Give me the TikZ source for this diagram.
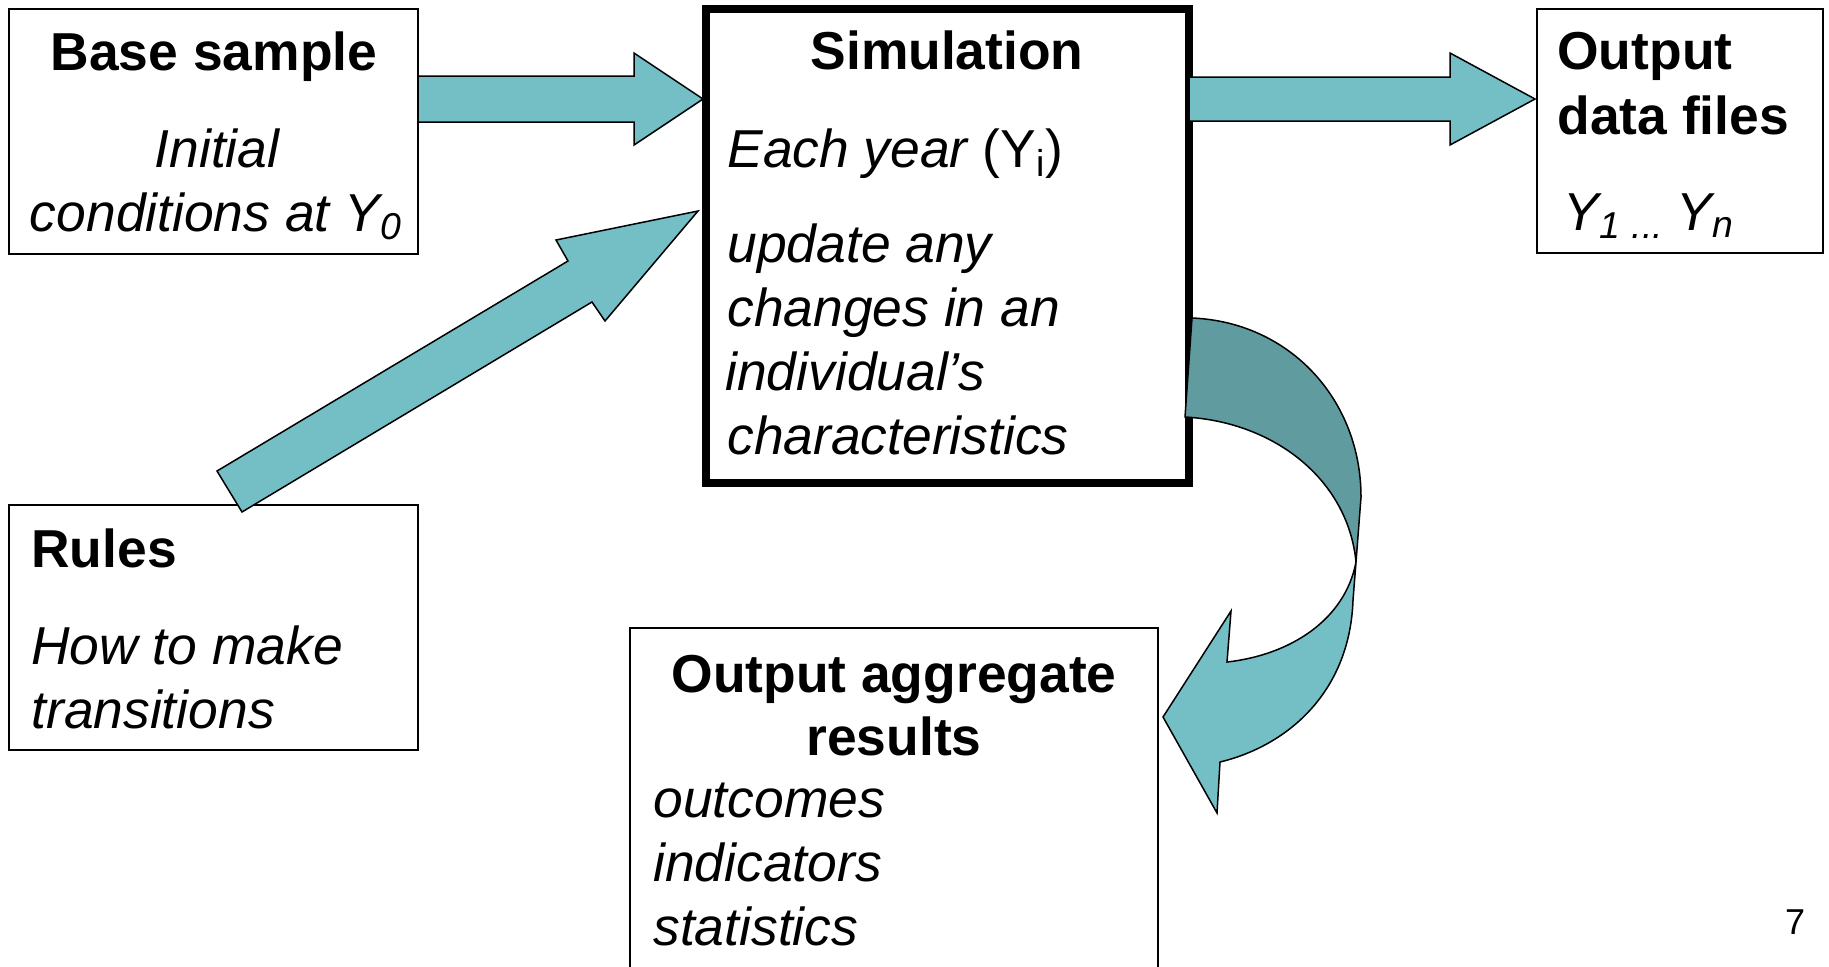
\documentclass[tikz,border=0pt]{standalone}
\usepackage{fontspec}
\setmainfont{Liberation Sans}
\definecolor{lteal}{RGB}{115,191,197}
\definecolor{dteal}{RGB}{95,155,159}
\begin{document}
\begin{tikzpicture}[x=0.5pt,y=-0.5pt,
  box/.style={draw=black, line width=1pt, inner sep=0pt},
  simbox/.style={draw=black, line width=4pt, inner sep=0pt},
  blk/.style={fill=lteal, draw=black, line width=0.75pt, line join=miter},
  blkdark/.style={fill=dteal, draw=black, line width=0.75pt, line join=miter},
  tb/.style={font=\fontsize{26.7}{32}\selectfont\bfseries, inner sep=0pt},
  ti/.style={font=\fontsize{26.7}{32}\selectfont\itshape, inner sep=0pt}]
\useasboundingbox (0,0) rectangle (1829,966);
\clip (0,0) rectangle (1829,966);

% boxes
\node[box, minimum width=204.5pt, minimum height=122.5pt] (base) at (213.5,131.5) {};
\node[simbox, minimum width=241.5pt, minimum height=237pt] (sim) at (947.5,246) {};
\node[box, minimum width=143pt, minimum height=122pt] (files) at (1680,131) {};
\node[box, minimum width=204.5pt, minimum height=122.5pt] (rules) at (213.5,627.5) {};
\node[box, minimum width=264pt, minimum height=186pt] (agg) at (894,814) {};

% texts
\node[tb, anchor=base] (tbase) at (214,70) {Base sample};
\node[ti, anchor=base] (tinit) at (217,167) {Initial};
\node[ti, anchor=base] (tcond) at (216,231) {conditions at Y\textsubscript{0}};

\node[tb, anchor=base] (tsim) at (947,69) {Simulation};
\node[ti, anchor=base west] (teach) at (727,167) {Each year {\upshape(Y\textsubscript{i})}};
\node[ti, anchor=base west] (tupd) at (727,262) {update any};
\node[ti, anchor=base west] (tchg) at (727,326) {changes in an};
\node[ti, anchor=base west] (tind) at (725,390) {individual’s};
\node[ti, anchor=base west] (tchar) at (727,454) {characteristics};

\node[tb, anchor=base west] (tout) at (1557,69) {Output};
\node[tb, anchor=base west] (tdata) at (1557,134) {data files};
\node[ti, anchor=base west] (tyn) at (1563,230) {Y\textsubscript{1\hspace{6pt}...}\hspace{-1pt} Y\textsubscript{n}};

\node[tb, anchor=base west] (trules) at (31,567) {Rules};
\node[ti, anchor=base west] (thow) at (31,664) {How to make};
\node[ti, anchor=base west] (ttrans) at (31,728) {transitions};

\node[tb, anchor=base] (tagg) at (894,692) {Output aggregate};
\node[tb, anchor=base] (tres) at (894,755) {results};
\node[ti, anchor=base west] (toutc) at (653,817) {outcomes};
\node[ti, anchor=base west] (tindc) at (653,881) {indicators};
\node[ti, anchor=base west] (tstat) at (653,945) {statistics};

\node[font=\fontsize{18}{20}\selectfont, anchor=base, inner sep=0pt] (pg) at (1795,934) {7};

% block arrows
\draw[blk] (418,76) -- (634,76) -- (634,53) -- (703,99) -- (634,145) -- (634,122) -- (418,122) -- cycle;
\draw[blk] (1189,77) -- (1450,77) -- (1450,53) -- (1535,99) -- (1450,145) -- (1450,121) -- (1189,121) -- cycle;
\draw[blk] (217,471) -- (568,261) -- (556,240) -- (698,211) -- (605,321) -- (592,302) -- (242,512) -- cycle;

% curved arrow: back (dark) part
\draw[blkdark] (1192,318) .. controls (1290,322) and (1361,400) .. (1361,497)
  -- (1356,562) .. controls (1348,480) and (1275,422) .. (1185,417) -- cycle;
% front (light) part
\draw[blk] (1356,562) -- (1353,600) .. controls (1350,690) and (1290,745) .. (1220,762)
  -- (1217,813) -- (1163,717) -- (1231,611) -- (1227,662)
  .. controls (1290,655) and (1345,620) .. (1356,562) -- cycle;
\end{tikzpicture}
\end{document}
